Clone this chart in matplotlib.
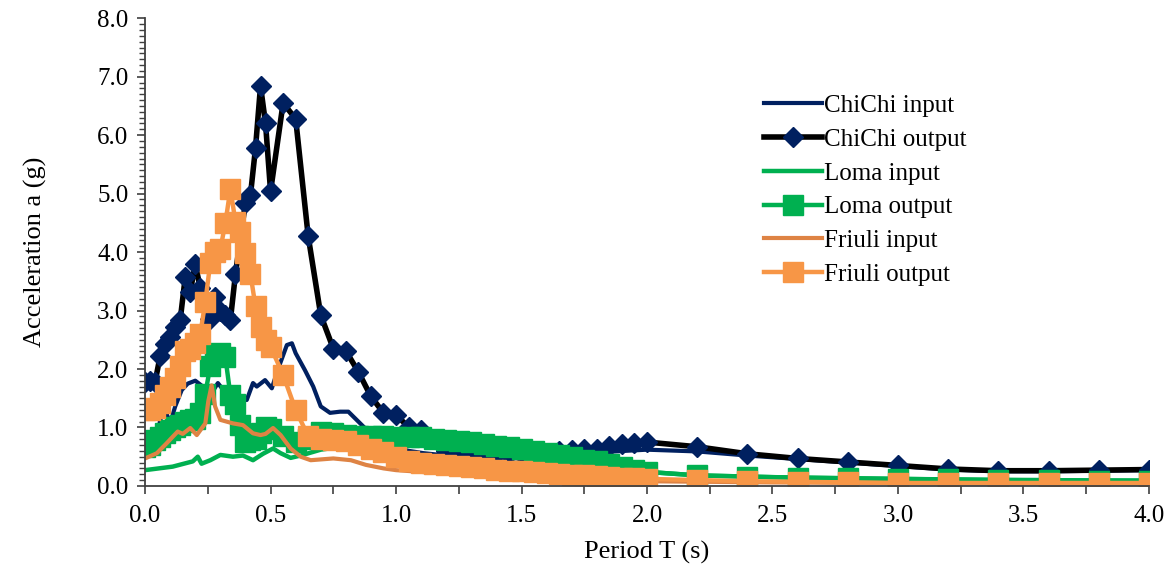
import matplotlib.pyplot as plt
from matplotlib.ticker import MultipleLocator, FormatStrFormatter

plt.rcParams['font.family'] = ['Liberation Serif', 'DejaVu Serif']

# Periodos comunes de las series "output" (s)
periodo = [0.00, 0.02, 0.04, 0.06, 0.08, 0.10, 0.12, 0.14, 0.16, 0.18, 0.20, 0.22, 0.24,
           0.26, 0.28, 0.30, 0.32, 0.34, 0.36, 0.38, 0.40, 0.42, 0.44, 0.46, 0.48, 0.50,
           0.55, 0.60, 0.65, 0.70, 0.75, 0.80, 0.85, 0.90, 0.95, 1.00, 1.05, 1.10, 1.15,
           1.20, 1.25, 1.30, 1.35, 1.40, 1.45, 1.50, 1.55, 1.60, 1.65, 1.70, 1.75, 1.80,
           1.85, 1.90, 1.95, 2.00,
           2.2, 2.4, 2.6, 2.8, 3.0, 3.2, 3.4, 3.6, 3.8, 4.0]

chichi_out = [1.78, 1.80, 1.78, 2.22, 2.42, 2.55, 2.72, 2.84, 3.57, 3.32, 3.80, 3.38, 3.10,
              2.86, 3.24, 3.00, 2.92, 2.84, 3.62, 4.25, 4.84, 4.98, 5.78, 6.84, 6.20, 5.04,
              6.55, 6.28, 4.27, 2.92, 2.35, 2.31, 1.95, 1.53, 1.25, 1.21, 1.01, 0.96, 0.80,
              0.60, 0.57, 0.55, 0.55, 0.54, 0.54, 0.54, 0.55, 0.57, 0.60, 0.62, 0.63, 0.64,
              0.68, 0.72, 0.74, 0.75,
              0.67, 0.55, 0.47, 0.41, 0.35, 0.29, 0.26, 0.26, 0.27, 0.28]

loma_out = [0.67, 0.70, 0.78, 0.84, 0.90, 0.96, 1.00, 1.05, 1.10, 1.13, 1.15, 1.24, 1.58,
            2.05, 2.25, 2.27, 2.20, 1.55, 1.40, 1.05, 0.75, 0.78, 0.80, 0.90, 1.00, 0.98,
            0.85, 0.75, 0.80, 0.92, 0.90, 0.87, 0.86, 0.85, 0.85, 0.84, 0.84, 0.83, 0.81,
            0.79, 0.77, 0.75, 0.72, 0.69, 0.66, 0.63, 0.60, 0.57, 0.53, 0.49, 0.45, 0.42,
            0.37, 0.32, 0.28, 0.24,
            0.18, 0.16, 0.14, 0.13, 0.12, 0.11, 0.10, 0.10, 0.09, 0.09]

friuli_out = [1.30, 1.30, 1.33, 1.42, 1.55, 1.70, 1.85, 2.05, 2.30, 2.35, 2.45, 2.60, 3.15,
              3.82, 4.00, 4.05, 4.50, 5.08, 4.52, 4.35, 3.98, 3.62, 3.07, 2.72, 2.50, 2.38,
              1.90, 1.30, 0.85, 0.80, 0.79, 0.76, 0.70, 0.64, 0.58, 0.50, 0.43, 0.39, 0.37,
              0.35, 0.34, 0.32, 0.30, 0.27, 0.26, 0.25, 0.24, 0.22, 0.21, 0.19, 0.18, 0.17,
              0.15, 0.14, 0.13, 0.12,
              0.10, 0.08, 0.07, 0.06, 0.05, 0.05, 0.05, 0.05, 0.05, 0.05]

# Series "input" (sin marcadores)
chichi_in_t = [0, 0.03, 0.05, 0.06, 0.08, 0.10, 0.12, 0.146, 0.17, 0.20, 0.23, 0.26, 0.29,
               0.31, 0.34, 0.37, 0.405, 0.43, 0.445, 0.478, 0.505, 0.53, 0.565, 0.585, 0.60,
               0.637, 0.67, 0.70, 0.737, 0.777, 0.81, 0.85, 0.89, 0.95, 1.0, 1.05, 1.11, 1.2,
               1.33, 1.49, 1.6, 1.7, 1.8, 1.87, 2.0, 2.2, 2.4, 2.6, 2.8, 3.0, 3.2, 3.4, 3.6,
               3.8, 4.0]
chichi_in = [0.79, 0.80, 0.85, 1.13, 1.30, 1.07, 1.36, 1.64, 1.75, 1.80, 1.70, 1.55, 1.76,
             1.65, 1.41, 1.55, 1.47, 1.76, 1.70, 1.81, 1.67, 2.00, 2.41, 2.44, 2.27, 1.98,
             1.70, 1.36, 1.25, 1.27, 1.27, 1.10, 0.93, 0.78, 0.66, 0.60, 0.56, 0.52, 0.50,
             0.47, 0.48, 0.50, 0.55, 0.59, 0.62, 0.59, 0.52, 0.46, 0.40, 0.34, 0.28, 0.25,
             0.25, 0.26, 0.27]

loma_in_t = [0, 0.11, 0.19, 0.21, 0.225, 0.26, 0.30, 0.35, 0.39, 0.43, 0.47, 0.51, 0.54,
             0.58, 0.62, 0.70, 0.8, 0.9, 1.0, 1.2, 1.4, 1.6, 1.8, 2.0, 2.2, 2.5, 3.0, 3.5, 4.0]
loma_in = [0.27, 0.33, 0.42, 0.50, 0.38, 0.44, 0.53, 0.50, 0.52, 0.44, 0.55, 0.64, 0.56,
           0.48, 0.52, 0.62, 0.68, 0.72, 0.75, 0.74, 0.65, 0.52, 0.38, 0.24, 0.18, 0.15,
           0.12, 0.10, 0.09]

friuli_in_t = [0, 0.047, 0.086, 0.11, 0.13, 0.15, 0.18, 0.206, 0.24, 0.252, 0.265, 0.279,
               0.30, 0.35, 0.39, 0.43, 0.46, 0.48, 0.51, 0.54, 0.58, 0.62, 0.66, 0.75, 0.82,
               0.88, 0.95, 1.0, 1.1, 1.2, 1.4, 1.6, 1.8, 2.0, 2.5, 3.0, 3.5, 4.0]
friuli_in = [0.47, 0.56, 0.73, 0.84, 0.93, 0.89, 0.99, 0.87, 1.07, 1.45, 1.72, 1.36, 1.13,
             1.07, 1.04, 0.90, 0.87, 0.89, 0.99, 0.87, 0.64, 0.50, 0.44, 0.47, 0.44, 0.36,
             0.30, 0.27, 0.24, 0.21, 0.17, 0.13, 0.10, 0.08, 0.06, 0.05, 0.04, 0.04]

azul = '#002060'
verde = '#00B050'
naranja_in = '#DE8344'
naranja_out = '#F79646'

fig = plt.figure(figsize=(11.7, 5.71), dpi=100)
ax = fig.add_axes([0.124, 0.149, 0.858, 0.819])

ax.plot(chichi_in_t, chichi_in, '-', color=azul, lw=3.0, label='ChiChi input')
ax.plot(periodo, chichi_out, '-', color='black', lw=4.0, marker='D', ms=10,
        mfc=azul, mec=azul, label='ChiChi output')
ax.plot(loma_in_t, loma_in, '-', color=verde, lw=3.2, label='Loma input')
ax.plot(periodo, loma_out, '-', color=verde, lw=3.2, marker='s', ms=14,
        mfc=verde, mec=verde, label='Loma output')
ax.plot(friuli_in_t, friuli_in, '-', color=naranja_in, lw=3.0, label='Friuli input')
ax.plot(periodo, friuli_out, '-', color=naranja_out, lw=3.2, marker='s', ms=14,
        mfc=naranja_out, mec=naranja_out, label='Friuli output')

ax.set_xlim(0, 4)
ax.set_ylim(0, 8)
ax.xaxis.set_major_locator(MultipleLocator(0.5))
ax.xaxis.set_minor_locator(MultipleLocator(0.25))
ax.yaxis.set_major_locator(MultipleLocator(1.0))
ax.yaxis.set_minor_locator(MultipleLocator(0.1))
ax.xaxis.set_major_formatter(FormatStrFormatter('%.1f'))
ax.yaxis.set_major_formatter(FormatStrFormatter('%.1f'))
ax.tick_params(axis='both', which='both', direction='out', labelsize=18, color='#404040')
ax.tick_params(axis='x', which='both', length=6, width=1.2, pad=8)
ax.tick_params(axis='y', which='major', length=6, width=1.2, pad=6)
ax.tick_params(axis='y', which='minor', length=4, width=1.0)

for s in ['top', 'right']:
    ax.spines[s].set_visible(False)
for s in ['left', 'bottom']:
    ax.spines[s].set_color('#404040')
    ax.spines[s].set_linewidth(1.3)

ax.set_xlabel('Period T (s)', fontsize=19, labelpad=10)
ax.set_ylabel('Acceleration a (g)', fontsize=19, labelpad=36)

ax.legend(loc='upper left', bbox_to_anchor=(0.607, 0.858), frameon=False, fontsize=18,
          handlelength=2.3, handletextpad=0.1, labelspacing=0.45, borderaxespad=0)

fig.savefig('out.png', dpi=100)
